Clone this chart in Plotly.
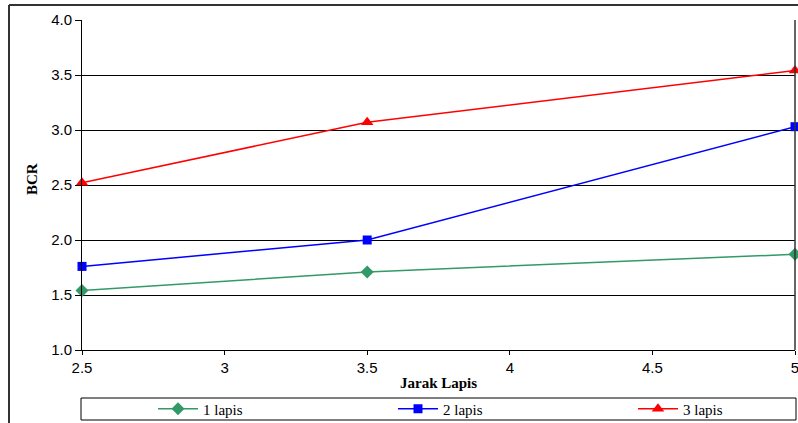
import plotly.graph_objects as go

# Layer spacing (x) and bearing capacity ratio for each number of layers
jarak = [2.5, 3.5, 5]
bcr_1 = [1.54, 1.71, 1.87]
bcr_2 = [1.76, 2.00, 3.03]
bcr_3 = [2.52, 3.07, 3.54]

x_ticks = [2.5, 3, 3.5, 4, 4.5, 5]
x_tick_text = ["2.5", "3", "3.5", "4", "4.5", "5"]
y_ticks = [1.0, 1.5, 2.0, 2.5, 3.0, 3.5, 4.0]
y_tick_text = ["1.0", "1.5", "2.0", "2.5", "3.0", "3.5", "4.0"]

W, H = 798, 423
ML, MR, MT, MB = 82, 3, 20, 73
PW, PH = W - ML - MR, H - MT - MB


def px(x):
    return (x - ML) / PW


def py(y):
    return (H - MB - y) / PH


fig = go.Figure()
fig.add_trace(go.Scatter(
    x=jarak, y=bcr_1, name="1 lapis", mode="lines+markers",
    line=dict(color="#339966", width=1.5),
    marker=dict(symbol="diamond", size=10, color="#339966"),
    cliponaxis=False, legend="legend", showlegend=True))
fig.add_trace(go.Scatter(
    x=jarak, y=bcr_2, name="2 lapis", mode="lines+markers",
    line=dict(color="#0000FF", width=1.5),
    marker=dict(symbol="square", size=9, color="#0000FF"),
    cliponaxis=False, legend="legend2", showlegend=True))
fig.add_trace(go.Scatter(
    x=jarak, y=bcr_3, name="3 lapis", mode="lines+markers",
    line=dict(color="#FF0000", width=1.5),
    marker=dict(symbol="triangle-up", size=11, color="#FF0000"),
    cliponaxis=False, legend="legend3", showlegend=True))

tick_font = dict(family="Liberation Sans, Arial, sans-serif", size=15, color="#000")
serif_bold = dict(family="Liberation Serif, Times New Roman, serif", size=15, color="#000")
legend_font = dict(family="Liberation Serif, Times New Roman, serif", size=15, color="#000")

fig.update_xaxes(
    range=[2.5, 5], tickvals=x_ticks, ticktext=x_tick_text,
    showgrid=False, zeroline=False, showline=True, linecolor="#000", linewidth=1,
    ticks="outside", ticklen=4, tickcolor="#000", tickfont=tick_font,
    ticklabeloverflow="allow", mirror=False)
fig.update_yaxes(
    range=[1.0, 4.0], tickvals=y_ticks, ticktext=y_tick_text,
    showgrid=True, gridcolor="#000", gridwidth=1,
    zeroline=False, showline=True, linecolor="#000", linewidth=1,
    ticks="outside", ticklen=6, tickcolor="#000", tickfont=tick_font,
    ticklabeloverflow="allow")

shapes = [
    # right edge of the plot area
    dict(type="line", xref="paper", yref="paper", x0=1, x1=1, y0=0, y1=1,
         line=dict(color="#333", width=1.5)),
    # outer chart frame
    dict(type="line", xref="paper", yref="paper", x0=px(9), x1=px(800),
         y0=py(5), y1=py(5), line=dict(color="#333", width=2)),
    dict(type="line", xref="paper", yref="paper", x0=px(9), x1=px(9),
         y0=py(5), y1=py(430), line=dict(color="#333", width=2)),
    # legend box
    dict(type="rect", xref="paper", yref="paper", x0=px(81), x1=px(796),
         y0=py(420), y1=py(398), line=dict(color="#000", width=1),
         fillcolor="rgba(0,0,0,0)"),
]

annotations = [
    dict(text="<b>Jarak Lapis</b>", xref="paper", yref="paper",
         x=px(438), y=py(383), showarrow=False, font=serif_bold,
         xanchor="center", yanchor="middle"),
    dict(text="<b>BCR</b>", xref="paper", yref="paper",
         x=px(32), y=py(179), showarrow=False, font=serif_bold,
         textangle=-90, xanchor="center", yanchor="middle"),
]


def legend_at(x_px):
    return dict(
        orientation="h", x=px(x_px), y=py(409), xanchor="left", yanchor="middle",
        itemwidth=40, font=legend_font, visible=True,
        bgcolor="rgba(0,0,0,0)", borderwidth=0)


fig.update_layout(
    width=W, height=H,
    showlegend=True,
    margin=dict(l=ML, r=MR, t=MT, b=MB, pad=0, autoexpand=False),
    plot_bgcolor="#FFFFFF", paper_bgcolor="#FFFFFF",
    shapes=shapes, annotations=annotations,
    legend=legend_at(153),
    legend2=legend_at(393),
    legend3=legend_at(633),
)

fig.write_html("out.html")
